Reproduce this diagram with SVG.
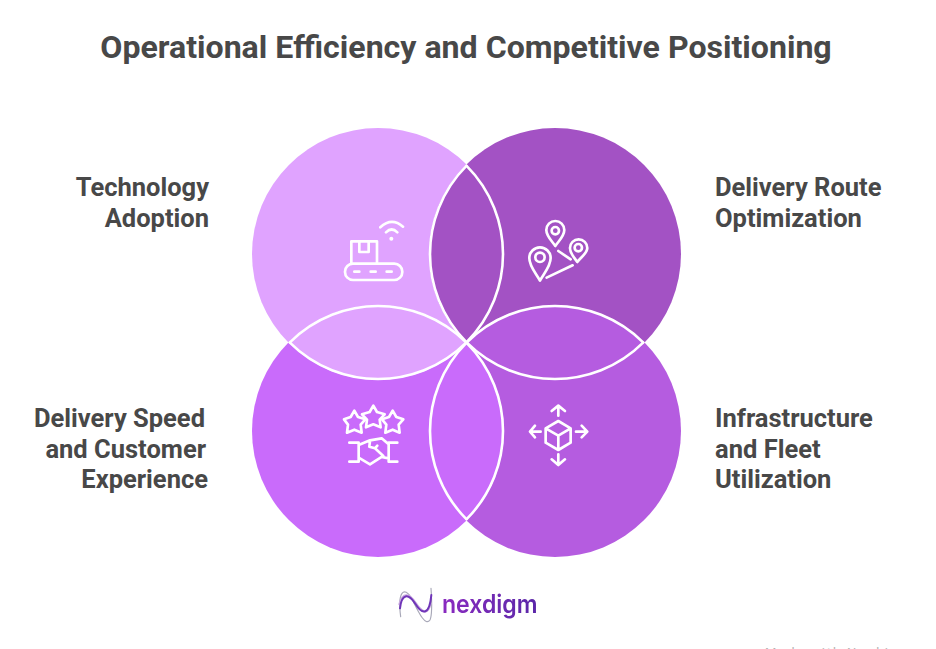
<svg xmlns="http://www.w3.org/2000/svg" width="936" height="649" viewBox="0 0 936 649">
<style>
text{font-family:Roboto,"Liberation Sans",sans-serif;font-weight:700;fill:#484848}
.t{font-size:32.1px}
.l{font-size:25.5px}
.e{text-anchor:end}
.o{fill:none;stroke:#fff;stroke-width:2.6}
.i{fill:none;stroke:#fff;stroke-width:8;stroke-linecap:round;stroke-linejoin:round}
</style>
<defs>
<clipPath id="clipBL"><circle cx="378" cy="431" r="126"/></clipPath>
<clipPath id="clipA"><circle cx="555" cy="254" r="126"/><circle cx="378" cy="431" r="126"/></clipPath>
<clipPath id="clipB"><circle cx="378" cy="254" r="126"/><circle cx="555" cy="431" r="126"/></clipPath>
<linearGradient id="g" x1="0" y1="0" x2="1" y2="0"><stop offset="0" stop-color="#8a2bc0"/><stop offset="1" stop-color="#5a28a8"/></linearGradient>
<filter id="soft" x="-10%" y="-10%" width="120%" height="120%"><feGaussianBlur stdDeviation="0.45"/></filter>
</defs>
<rect width="936" height="649" fill="#fff"/>
<text class="t" x="466" y="57.5" text-anchor="middle">Operational Efficiency and Competitive Positioning</text>
<g id="fills">
<circle cx="378" cy="254" r="126" fill="#e0a3ff"/>
<circle cx="555" cy="254" r="126" fill="#a352c4"/>
<circle cx="555" cy="431" r="126" fill="#b55ce0"/>
<circle cx="378" cy="431" r="126" fill="#c96bfb"/>
<circle cx="378" cy="254" r="126" fill="#e0a3ff" clip-path="url(#clipBL)"/>
</g>
<g id="connectors">
<circle class="o" cx="378" cy="254" r="125" clip-path="url(#clipA)"/>
<circle class="o" cx="555" cy="431" r="125" clip-path="url(#clipA)"/>
<circle class="o" cx="555" cy="254" r="125" clip-path="url(#clipB)"/>
<circle class="o" cx="378" cy="431" r="125" clip-path="url(#clipB)"/>
</g>
<g id="node-technology">
<text class="l e" x="209" y="196">Technology</text>
<text class="l e" x="209" y="226.5">Adoption</text>
<g transform="translate(320 200) scale(.3333)">
<rect class="i" x="75" y="191" width="172" height="49" rx="24"/>
<path class="i" d="M103 215H118M152 215H167M200 215H215M94 190V124H171V190M118 124V156H146V124M181 82Q215 50 249 80M198 97Q215 80 232 97"/>
<circle cx="214" cy="116" r="6" fill="#fff"/>
</g>
</g>
<g id="node-route">
<text class="l" x="715" y="196">Delivery Route</text>
<text class="l" x="715" y="226.5">Optimization</text>
<g transform="translate(320 200) scale(.3333)">
<path class="i" d="M706 138C695 122 679 108 679 90A27 27 0 0 1 733 90C733 108 717 122 706 138Z"/>
<circle class="i" cx="706" cy="92" r="11"/>
<path class="i" d="M772 186C762 172 750 160 750 144A26 26 0 0 1 802 144C802 160 782 172 772 186Z"/>
<circle class="i" cx="775" cy="143" r="11"/>
<path class="i" d="M660 242C650 222 628 200 628 174A32 32 0 0 1 692 174C692 200 670 222 660 242Z"/>
<circle class="i" cx="660" cy="172" r="14"/>
<path class="i" d="M715 153L752 178M680 233L758 196"/>
</g>
</g>
<g id="node-speed">
<text class="l e" x="205" y="426.5">Delivery Speed</text>
<text class="l e" x="206" y="457.5">and Customer</text>
<text class="l e" x="208" y="488">Experience</text>
<g transform="translate(320 395) scale(.3333)">
<path class="i" d="M103 47L114 66L136 73L122 89L125 113L103 104L81 113L84 89L72 73L92 66Z"/>
<path class="i" d="M160 32L171 51L194 58L179 74L182 97L160 88L138 97L141 74L126 58L149 51Z"/>
<path class="i" d="M218 47L229 66L250 73L236 89L239 113L218 104L196 113L199 89L186 73L207 66Z"/>
<path class="i" d="M88 143H116V200H88M232 143H206V200H232M116 150L150 136L185 130L206 148M116 188L150 208L185 186L206 190M150 138L148 155L165 160L172 152M165 160L190 183"/>
</g>
</g>
<g id="node-infrastructure">
<text class="l" x="715" y="426.5">Infrastructure</text>
<text class="l" x="715" y="457.5">and Fleet</text>
<text class="l" x="715" y="488">Utilization</text>
<g transform="translate(320 395) scale(.3333)">
<path class="i" d="M715 78L752 100V143L715 165L677 143V100ZM677 100L715 122L752 100M715 122V165"/>
<path class="i" d="M715 35V62M695 48L715 32L735 48M715 178V208M695 193L715 210L735 193M632 110H662M645 92L630 110L645 127M768 110H800M785 92L802 110L785 127"/>
</g>
</g>
<g id="logo" filter="url(#soft)">
<g transform="translate(380 575) scale(.3333)" fill="none" stroke-linecap="round">
<path d="M62 125C52 50 72 32 95 70C115 110 135 155 150 135C158 118 155 70 153 40" stroke="#a8a8b8" stroke-width="3.500"/>
<path d="M58 88C68 50 88 55 108 85C128 115 145 120 152 85" stroke="#c9a8e0" stroke-width="6"/>
<path d="M60 100C65 55 85 55 105 85C125 118 148 125 154 60" stroke="#6f35b8" stroke-width="6"/>
</g>
<text x="442" y="613" font-size="25.500" textLength="95.500" lengthAdjust="spacingAndGlyphs" style="fill:url(#g);font-family:Inter,Roboto,sans-serif;font-weight:600">nexdigm</text>
</g>
<text x="765" y="656.500" font-size="13" textLength="132" style="fill:#b4b4b4;font-weight:400">Made with Napkin</text>
</svg>
